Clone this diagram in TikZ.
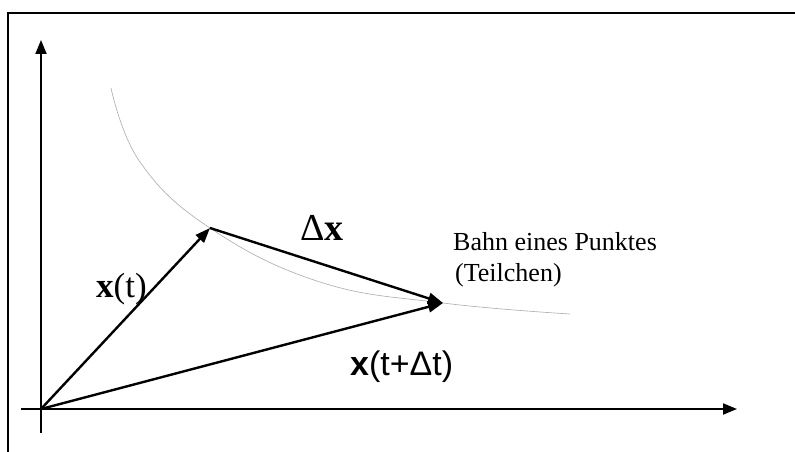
\documentclass[tikz,border=0pt]{standalone}
\usepackage{fontspec}
\setmainfont{Liberation Serif}
\newfontfamily\arialfont{Liberation Sans}
\usetikzlibrary{arrows.meta}

\tikzset{
  vec/.style={line width=2.4pt, -{Triangle[length=15pt,width=11pt]}},
  axis/.style={line width=2pt, -{Triangle[length=14pt,width=11pt]}},
  bahn/.style={color={rgb, 255:red, 170; green, 170; blue, 170 }, line width=0.6pt},
  lbl/.style={anchor=base west, inner sep=0pt}
}

\begin{document}
\begin{tikzpicture}[x=1pt,y=1pt,yscale=-1,xscale=1]
\useasboundingbox (0,0) rectangle (795,452);

%Frame
\draw [line width=2pt] (8,452) -- (8,13) -- (795,13) ;

%Points
\coordinate (O) at (41,409) ;
\coordinate (A) at (210,228) ;
\coordinate (B) at (443,303) ;
\coordinate (xs) at (21,409) ;
\coordinate (xe) at (737,409) ;
\coordinate (ys) at (41,433) ;
\coordinate (ye) at (41,40) ;

%Shape: Axis 2D
\draw [axis] (xs) -- (xe) ;
\draw [axis] (ys) -- (ye) ;

%Curve: Bahn
\draw [bahn] plot [smooth, tension=0.7] coordinates {(111,88) (140,162) (210,228) (320,282) (443,303) (570,314)} ;

%Straight Lines
\draw [vec] (O) -- (A) ;
\draw [vec] (A) -- (B) ;
\draw [vec] (O) -- (B) ;

% Text Node
\node (lxt) [lbl, font=\fontsize{35}{40}\selectfont] at (96,297) {{\bfseries x}(t)};
% Text Node
\node (ldx) [lbl, font=\fontsize{38}{42}\selectfont] at (300,240) {Δ{\bfseries x}};
% Text Node
\node (lxtdt) [lbl, font=\fontsize{34}{38}\arialfont] at (350,375) {{\bfseries x}(t+Δt)};
% Text Node
\node (lbahn) [lbl, font=\fontsize{26}{30}\selectfont] at (453,250) {Bahn eines Punktes};
% Text Node
\node (lteil) [lbl, font=\fontsize{26}{30}\selectfont] at (455,281) {(Teilchen)};

\end{tikzpicture}
\end{document}
